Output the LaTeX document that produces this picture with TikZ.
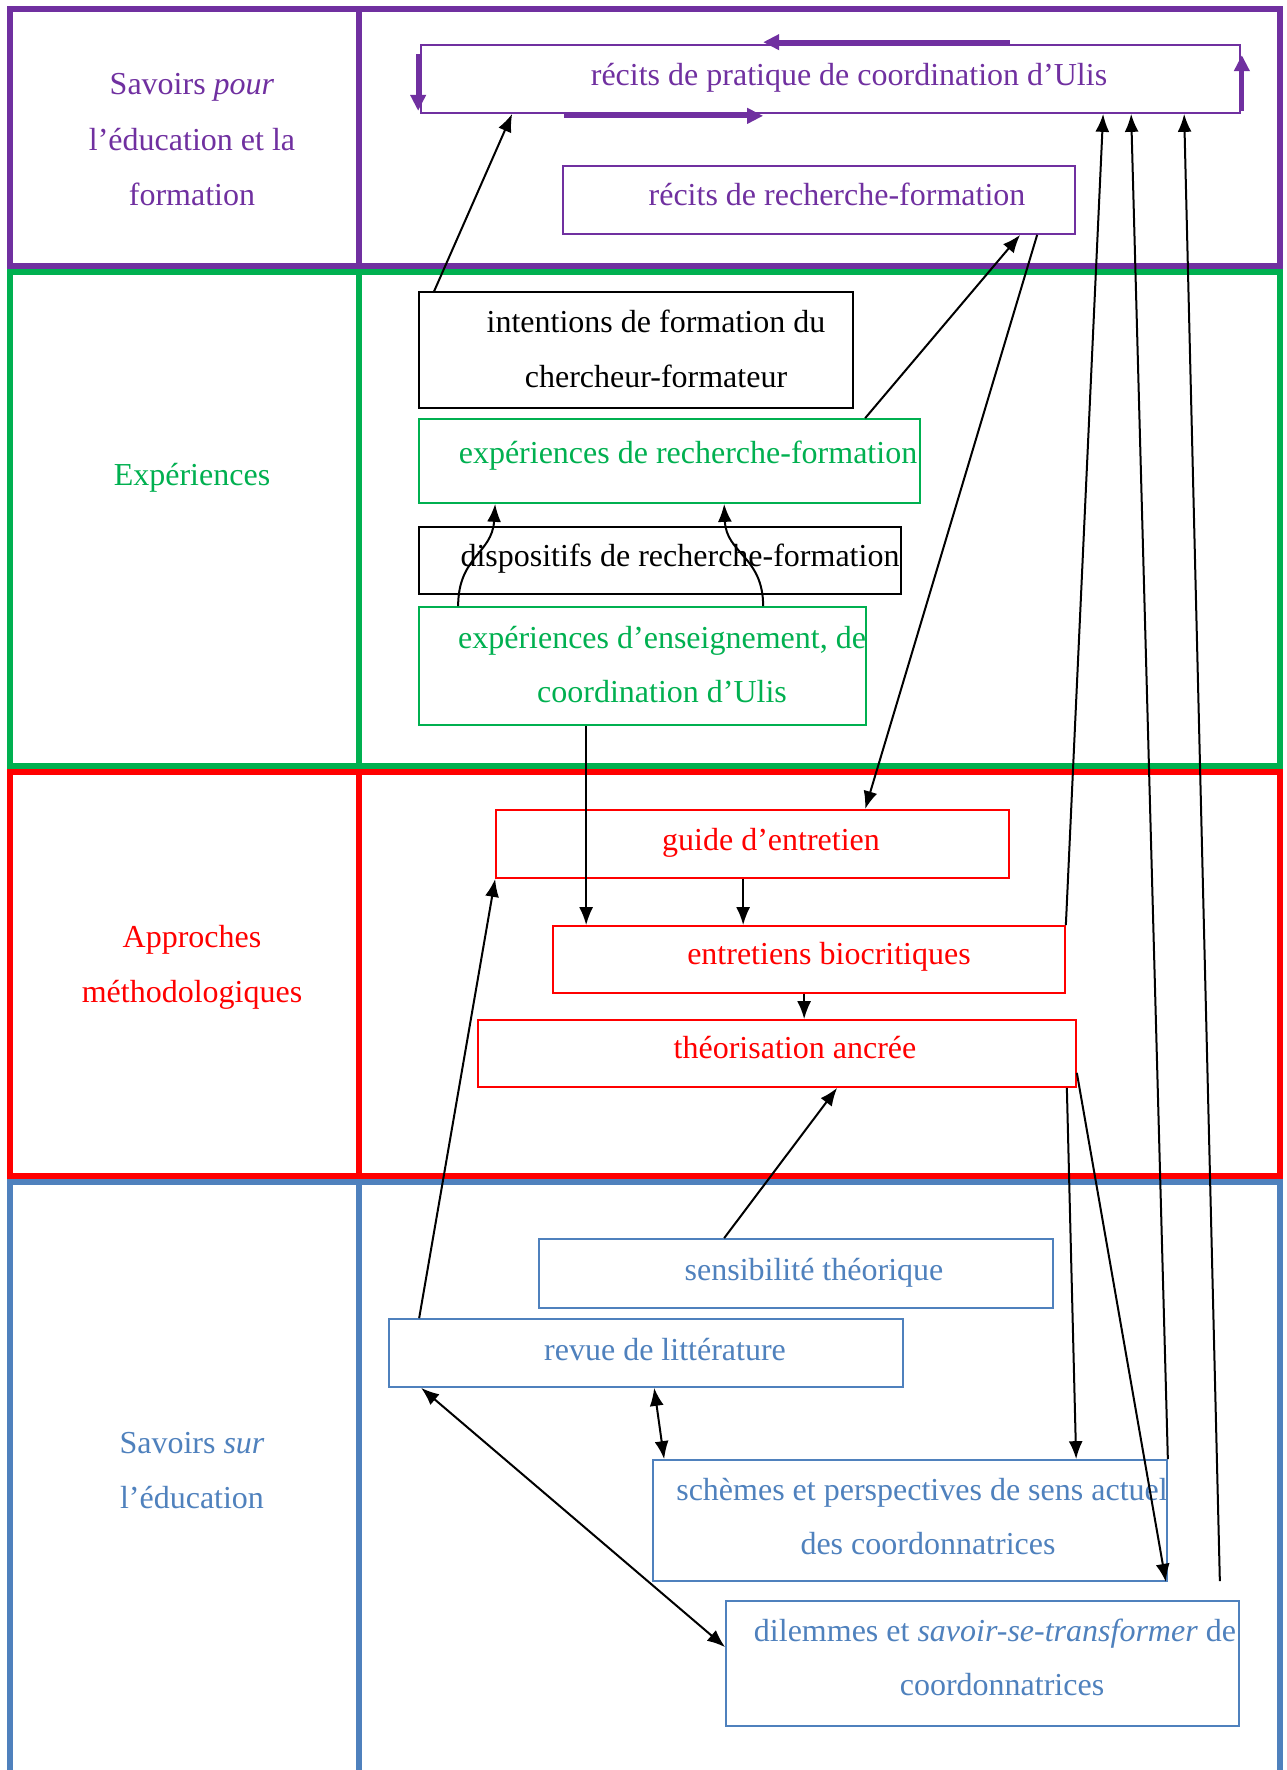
\documentclass[tikz,border=0pt]{standalone}
\usepackage{fontspec}
\setmainfont{Liberation Serif}
\usetikzlibrary{arrows.meta,calc}
\definecolor{cpurple}{HTML}{7030A0}
\definecolor{cgreen}{HTML}{00B050}
\definecolor{cred}{HTML}{FF0000}
\definecolor{cblue}{HTML}{4F81BD}
\newcommand\mybox[6]{\node[box,#6,minimum width={#4-#2},minimum height={#5-#3}] (#1) at ({(#2+#4)/2},{(#3+#5)/2}) {};}
\begin{document}
\begin{tikzpicture}[x=1pt,y=-1pt,
  frame/.style={line width=6pt,line join=miter},
  box/.style={draw,line width=1.7pt,rectangle,inner sep=0pt},
  txt/.style={inner sep=0pt,anchor=base,font=\fontsize{32}{40}\selectfont},
  arr/.style={line width=2pt,-{Latex[length=18pt,width=14pt]}},
  darr/.style={line width=2pt,{Latex[length=18pt,width=14pt]}-{Latex[length=18pt,width=14pt]}},
  parr/.style={cpurple,line width=4pt,-{Triangle[length=16pt,width=15pt]}}]
\useasboundingbox (0,0) rectangle (1287,1770);
\fill[white] (0,0) rectangle (1287,1770);
% frames
\draw[frame,cpurple] (10,9) rectangle (1280,266);
\draw[frame,cpurple] (359,9) -- (359,266);
\draw[frame,cgreen] (10,272) rectangle (1280,766);
\draw[frame,cgreen] (359,272) -- (359,766);
\draw[frame,cred] (10,772) rectangle (1280,1176);
\draw[frame,cred] (359,772) -- (359,1176);
\draw[frame,cblue] (10,1770) -- (10,1182) -- (1280,1182) -- (1280,1770);
\draw[frame,cblue] (359,1182) -- (359,1770);
% left labels
\node[txt,cpurple] (l1a) at (192,94) {Savoirs \textit{pour}};
\node[txt,cpurple] (l1b) at (192,150) {l’éducation et la};
\node[txt,cpurple] (l1c) at (192,205) {formation};
\node[txt,cgreen] (l2) at (192,485) {Expériences};
\node[txt,cred] (l3a) at (192,947) {Approches};
\node[txt,cred] (l3b) at (192,1002) {méthodologiques};
\node[txt,cblue] (l4a) at (192,1453) {Savoirs \textit{sur}};
\node[txt,cblue] (l4b) at (192,1508) {l’éducation};
% boxes
\mybox{b1}{421}{45}{1240}{113}{cpurple}
\mybox{b2}{563}{166}{1075}{234}{cpurple}
\mybox{b3}{419}{292}{853}{408}{black}
\mybox{b4}{419}{419}{920}{503}{cgreen}
\mybox{b5}{419}{527}{901}{594}{black}
\mybox{b6}{419}{607}{866}{725}{cgreen}
\mybox{b7}{496}{810}{1009}{878}{cred}
\mybox{b8}{553}{926}{1065}{993}{cred}
\mybox{b9}{478}{1020}{1076}{1087}{cred}
\mybox{b10}{539}{1239}{1053}{1308}{cblue}
\mybox{b11}{389}{1319}{903}{1387}{cblue}
\mybox{b12}{653}{1460}{1167}{1581}{cblue}
\mybox{b13}{726}{1601}{1239}{1726}{cblue}
% box texts
\node[txt,cpurple] (t1) at (849,85) {récits de pratique de coordination d’Ulis};
\node[txt,cpurple] (t2) at (837,205) {récits de recherche-formation};
\node[txt] (t3a) at (656,332) {intentions de formation du};
\node[txt] (t3b) at (656,387) {chercheur-formateur};
\node[txt,cgreen] (t4) at (688,463) {expériences de recherche-formation};
\node[txt] (t5) at (680,566) {dispositifs de recherche-formation};
\node[txt,cgreen] (t6a) at (662,648) {expériences d’enseignement, de};
\node[txt,cgreen] (t6b) at (662,702) {coordination d’Ulis};
\node[txt,cred] (t7) at (771,850) {guide d’entretien};
\node[txt,cred] (t8) at (829,964) {entretiens biocritiques};
\node[txt,cred] (t9) at (795,1058) {théorisation ancrée};
\node[txt,cblue] (t10) at (814,1280) {sensibilité théorique};
\node[txt,cblue] (t11) at (665,1360) {revue de littérature};
\node[txt,cblue] (t12a) at (922,1500) {schèmes et perspectives de sens actuel};
\node[txt,cblue] (t12b) at (928,1554) {des coordonnatrices};
\node[txt,cblue] (t13a) at (995,1641) {dilemmes et \textit{savoir-se-transformer} de};
\node[txt,cblue] (t13b) at (1002,1695) {coordonnatrices};
% purple cycle arrows
\coordinate (pt1) at ($(b1.north west)+(590,-2)$);
\coordinate (pt2) at ($(b1.north west)+(343,-2)$);
\coordinate (pl1) at ($(b1.north west)+(-2,10)$);
\coordinate (pl2) at ($(b1.south west)+(-2,-3)$);
\coordinate (pb1) at ($(b1.south west)+(144,2)$);
\coordinate (pb2) at ($(b1.south west)+(343,2)$);
\coordinate (pr1) at ($(b1.south east)+(1,-3)$);
\coordinate (pr2) at ($(b1.north east)+(1,11)$);
\draw[parr] (pt1) -- (pt2);
\draw[parr] (pl1) -- (pl2);
\draw[parr] (pb1) -- (pb2);
\draw[parr] (pr1) -- (pr2);
% black connectors
\draw[arr] ($(b3.north west)+(16,0)$) -- ($(b1.south west)+(92,0)$);
\draw[arr] ($(b4.north west)+(447,0)$) -- ($(b2.south west)+(458,0)$);
\draw[arr] ($(b2.south west)+(475,0)$) -- ($(b7.north west)+(370,0)$);
\draw[arr] ($(b6.south west)+(168,0)$) -- ($(b8.north west)+(34,0)$);
\draw[arr] ($(b7.south west)+(248,0)$) -- ($(b8.north west)+(191,0)$);
\draw[arr] ($(b8.south west)+(252,0)$) -- ($(b9.north west)+(327,0)$);
\draw[arr] (b8.north east) -- ($(b1.south west)+(683,0)$);
\draw[arr] (b12.north east) -- ($(b1.south west)+(711,0)$);
\coordinate (i0) at ($(b13.north east)+(-20,-19)$);
\draw[arr] (i0) -- ($(b1.south west)+(764,0)$);
\draw[arr] ($(b9.south east)+(-10,0)$) -- ($(b12.north west)+(424,0)$);
\draw[arr] ($(b9.south east)+(0,-15)$) -- ($(b12.south east)+(-2,0)$);
\draw[arr] ($(b10.north west)+(186,0)$) -- ($(b9.south west)+(360,0)$);
\draw[arr] ($(b11.north west)+(31,0)$) -- (b7.south west);
\draw[darr] ($(b11.south west)+(266,0)$) -- ($(b12.north west)+(12,0)$);
\draw[darr] ($(b11.south west)+(33,0)$) -- ($(b13.north west)+(0,47)$);
\draw[arr] ($(b6.north west)+(40,0)$) .. controls ($(b6.north west)+(40,-50)$) and ($(b4.south west)+(74,50)$) .. ($(b4.south west)+(77,0)$);
\draw[arr] ($(b6.north west)+(345,0)$) .. controls ($(b6.north west)+(345,-50)$) and ($(b4.south west)+(308,50)$) .. ($(b4.south west)+(306,0)$);
\end{tikzpicture}
\end{document}
